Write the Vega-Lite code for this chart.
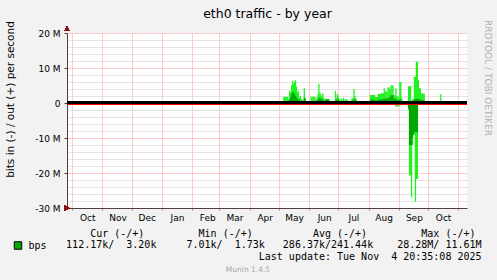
{
  "$schema": "https://vega.github.io/schema/vega-lite/v6.json",
  "autosize": {"type": "none"},
  "width": 400,
  "height": 175,
  "padding": {"left": 67, "top": 33, "right": 30, "bottom": 72},
  "background": "#f2f2f2",
  "config": {
    "view": {"fill": "#ffffff", "stroke": null},
    "font": "DejaVu Sans"
  },
  "title": {
    "text": "Munin 1.4.5",
    "orient": "bottom",
    "frame": "group",
    "anchor": "middle",
    "offset": 11,
    "dx": -19,
    "baseline": "alphabetic",
    "font": "DejaVu Sans",
    "fontSize": 7.5,
    "fontWeight": "normal",
    "color": "#a8a8a8"
  },
  "data": {
    "values": [
      {"d": "2025-05-06", "omax": 1.8, "oavg": 0.6, "imin": 0, "iavg": 0},
      {"d": "2025-05-07", "omax": 1.8, "oavg": 0.6, "imin": 0, "iavg": 0},
      {"d": "2025-05-08", "omax": 1.8, "oavg": 0.6, "imin": 0, "iavg": 0},
      {"d": "2025-05-09", "omax": 1.8, "oavg": 0.6, "imin": 0, "iavg": 0},
      {"d": "2025-05-10", "omax": 1.8, "oavg": 0.6, "imin": 0, "iavg": 0},
      {"d": "2025-05-11", "omax": 1.0, "oavg": 0.5, "imin": 0, "iavg": 0},
      {"d": "2025-05-12", "omax": 3.5, "oavg": 1.0, "imin": 0, "iavg": 0},
      {"d": "2025-05-13", "omax": 3.0, "oavg": 1.5, "imin": 0, "iavg": 0},
      {"d": "2025-05-14", "omax": 5.0, "oavg": 2.5, "imin": 0, "iavg": 0},
      {"d": "2025-05-15", "omax": 6.3, "oavg": 3.0, "imin": 0, "iavg": 0},
      {"d": "2025-05-16", "omax": 5.5, "oavg": 3.0, "imin": 0, "iavg": 0},
      {"d": "2025-05-17", "omax": 6.0, "oavg": 2.5, "imin": 0, "iavg": 0},
      {"d": "2025-05-18", "omax": 6.5, "oavg": 2.0, "imin": 0, "iavg": 0},
      {"d": "2025-05-19", "omax": 4.7, "oavg": 1.5, "imin": 0, "iavg": 0},
      {"d": "2025-05-20", "omax": 3.0, "oavg": 1.2, "imin": 0, "iavg": 0},
      {"d": "2025-05-21", "omax": 3.5, "oavg": 1.0, "imin": 0, "iavg": 0},
      {"d": "2025-05-22", "omax": 1.5, "oavg": 0.8, "imin": 0, "iavg": 0},
      {"d": "2025-05-23", "omax": 2.0, "oavg": 0.6, "imin": 0, "iavg": 0},
      {"d": "2025-05-24", "omax": 1.2, "oavg": 0.5, "imin": 0, "iavg": 0},
      {"d": "2025-05-25", "omax": 0.8, "oavg": 0.4, "imin": 0, "iavg": 0},
      {"d": "2025-05-27", "omax": 4.2, "oavg": 1.5, "imin": 0, "iavg": 0},
      {"d": "2025-05-28", "omax": 1.5, "oavg": 1.0, "imin": 0, "iavg": 0},
      {"d": "2025-06-03", "omax": 1.8, "oavg": 0.5, "imin": 0, "iavg": 0},
      {"d": "2025-06-04", "omax": 1.8, "oavg": 0.5, "imin": 0, "iavg": 0},
      {"d": "2025-06-05", "omax": 1.8, "oavg": 0.5, "imin": 0, "iavg": 0},
      {"d": "2025-06-06", "omax": 1.8, "oavg": 0.5, "imin": 0, "iavg": 0},
      {"d": "2025-06-07", "omax": 1.8, "oavg": 0.5, "imin": 0, "iavg": 0},
      {"d": "2025-06-08", "omax": 0.3, "oavg": 0.2, "imin": 0, "iavg": 0},
      {"d": "2025-06-09", "omax": 1.5, "oavg": 0.8, "imin": 0, "iavg": 0},
      {"d": "2025-06-10", "omax": 2.5, "oavg": 1.0, "imin": 0, "iavg": 0},
      {"d": "2025-06-11", "omax": 5.5, "oavg": 1.5, "imin": 0, "iavg": 0},
      {"d": "2025-06-12", "omax": 3.0, "oavg": 1.5, "imin": 0, "iavg": 0},
      {"d": "2025-06-13", "omax": 2.5, "oavg": 1.2, "imin": 0, "iavg": 0},
      {"d": "2025-06-14", "omax": 2.0, "oavg": 1.0, "imin": 0, "iavg": 0},
      {"d": "2025-06-15", "omax": 2.8, "oavg": 1.0, "imin": 0, "iavg": 0},
      {"d": "2025-06-16", "omax": 1.5, "oavg": 0.8, "imin": 0, "iavg": 0},
      {"d": "2025-06-18", "omax": 1.2, "oavg": 1.0, "imin": 0, "iavg": 0},
      {"d": "2025-06-19", "omax": 1.2, "oavg": 1.0, "imin": 0, "iavg": 0},
      {"d": "2025-06-20", "omax": 1.2, "oavg": 1.0, "imin": 0, "iavg": 0},
      {"d": "2025-06-21", "omax": 1.2, "oavg": 1.0, "imin": 0, "iavg": 0},
      {"d": "2025-06-28", "omax": 3.5, "oavg": 0.8, "imin": 0, "iavg": 0},
      {"d": "2025-06-29", "omax": 1.5, "oavg": 0.8, "imin": 0, "iavg": 0},
      {"d": "2025-06-30", "omax": 2.5, "oavg": 1.0, "imin": 0, "iavg": 0},
      {"d": "2025-07-01", "omax": 1.8, "oavg": 1.0, "imin": 0, "iavg": 0},
      {"d": "2025-07-02", "omax": 1.0, "oavg": 0.6, "imin": 0, "iavg": 0},
      {"d": "2025-07-03", "omax": 0.3, "oavg": 0.2, "imin": 0, "iavg": 0},
      {"d": "2025-07-04", "omax": 1.3, "oavg": 0.5, "imin": 0, "iavg": 0},
      {"d": "2025-07-05", "omax": 0.8, "oavg": 0.4, "imin": 0, "iavg": 0},
      {"d": "2025-07-06", "omax": 1.5, "oavg": 0.5, "imin": 0, "iavg": 0},
      {"d": "2025-07-07", "omax": 0.8, "oavg": 0.4, "imin": 0, "iavg": 0},
      {"d": "2025-07-08", "omax": 1.2, "oavg": 0.6, "imin": 0, "iavg": 0},
      {"d": "2025-07-09", "omax": 1.0, "oavg": 0.5, "imin": 0, "iavg": 0},
      {"d": "2025-07-10", "omax": 1.0, "oavg": 0.5, "imin": 0, "iavg": 0},
      {"d": "2025-07-11", "omax": 0.5, "oavg": 0.3, "imin": 0, "iavg": 0},
      {"d": "2025-07-14", "omax": 0.8, "oavg": 0.4, "imin": 0, "iavg": 0},
      {"d": "2025-07-15", "omax": 1.5, "oavg": 0.6, "imin": 0, "iavg": 0},
      {"d": "2025-07-16", "omax": 1.2, "oavg": 0.8, "imin": 0, "iavg": 0},
      {"d": "2025-07-17", "omax": 4.0, "oavg": 1.2, "imin": 0, "iavg": 0},
      {"d": "2025-07-18", "omax": 2.0, "oavg": 1.0, "imin": 0, "iavg": 0},
      {"d": "2025-07-19", "omax": 1.2, "oavg": 0.8, "imin": 0, "iavg": 0},
      {"d": "2025-07-20", "omax": 0.3, "oavg": 0.2, "imin": 0, "iavg": 0},
      {"d": "2025-07-21", "omax": 0.5, "oavg": 0.3, "imin": 0, "iavg": 0},
      {"d": "2025-07-22", "omax": 0.5, "oavg": 0.3, "imin": 0, "iavg": 0},
      {"d": "2025-07-23", "omax": 0.5, "oavg": 0.3, "imin": 0, "iavg": 0},
      {"d": "2025-07-24", "omax": 0.5, "oavg": 0.3, "imin": 0, "iavg": 0},
      {"d": "2025-07-25", "omax": 0.5, "oavg": 0.3, "imin": 0, "iavg": 0},
      {"d": "2025-07-26", "omax": 0.5, "oavg": 0.3, "imin": 0, "iavg": 0},
      {"d": "2025-08-03", "omax": 2.3, "oavg": 0.9, "imin": -0.5, "iavg": -0.5},
      {"d": "2025-08-04", "omax": 2.3, "oavg": 0.9, "imin": -0.5, "iavg": -0.5},
      {"d": "2025-08-05", "omax": 2.3, "oavg": 0.9, "imin": -0.5, "iavg": -0.5},
      {"d": "2025-08-06", "omax": 2.3, "oavg": 0.9, "imin": -0.5, "iavg": -0.5},
      {"d": "2025-08-07", "omax": 2.3, "oavg": 0.9, "imin": -0.5, "iavg": -0.5},
      {"d": "2025-08-08", "omax": 1.7, "oavg": 0.7, "imin": -0.5, "iavg": -0.5},
      {"d": "2025-08-09", "omax": 1.7, "oavg": 0.7, "imin": -0.5, "iavg": -0.5},
      {"d": "2025-08-10", "omax": 1.7, "oavg": 0.7, "imin": -0.5, "iavg": -0.5},
      {"d": "2025-08-11", "omax": 2.6, "oavg": 0.9, "imin": -0.5, "iavg": -0.5},
      {"d": "2025-08-12", "omax": 2.6, "oavg": 0.9, "imin": -0.5, "iavg": -0.5},
      {"d": "2025-08-13", "omax": 2.6, "oavg": 0.9, "imin": -0.5, "iavg": -0.5},
      {"d": "2025-08-14", "omax": 2.8, "oavg": 1.0, "imin": -0.5, "iavg": -0.5},
      {"d": "2025-08-15", "omax": 2.8, "oavg": 1.0, "imin": -0.5, "iavg": -0.5},
      {"d": "2025-08-16", "omax": 2.8, "oavg": 1.0, "imin": -0.6, "iavg": -0.6},
      {"d": "2025-08-17", "omax": 4.2, "oavg": 1.2, "imin": -0.6, "iavg": -0.6},
      {"d": "2025-08-18", "omax": 3.5, "oavg": 1.2, "imin": -0.6, "iavg": -0.6},
      {"d": "2025-08-19", "omax": 3.2, "oavg": 1.2, "imin": -0.6, "iavg": -0.6},
      {"d": "2025-08-20", "omax": 3.2, "oavg": 1.2, "imin": -0.6, "iavg": -0.6},
      {"d": "2025-08-21", "omax": 4.4, "oavg": 1.5, "imin": -0.6, "iavg": -0.6},
      {"d": "2025-08-22", "omax": 4.4, "oavg": 1.5, "imin": -0.6, "iavg": -0.6},
      {"d": "2025-08-23", "omax": 3.8, "oavg": 1.6, "imin": -0.6, "iavg": -0.6},
      {"d": "2025-08-24", "omax": 5.0, "oavg": 2.2, "imin": -0.6, "iavg": -0.6},
      {"d": "2025-08-25", "omax": 5.0, "oavg": 2.2, "imin": -0.6, "iavg": -0.6},
      {"d": "2025-08-26", "omax": 5.0, "oavg": 2.2, "imin": -0.6, "iavg": -0.6},
      {"d": "2025-08-27", "omax": 2.3, "oavg": 1.2, "imin": -0.6, "iavg": -0.6},
      {"d": "2025-08-28", "omax": 2.3, "oavg": 1.2, "imin": -0.6, "iavg": -0.6},
      {"d": "2025-08-29", "omax": 4.2, "oavg": 1.2, "imin": -1.0, "iavg": -0.5},
      {"d": "2025-08-30", "omax": 2.0, "oavg": 1.0, "imin": -1.0, "iavg": -0.5},
      {"d": "2025-08-31", "omax": 1.8, "oavg": 0.8, "imin": -1.0, "iavg": -0.5},
      {"d": "2025-09-01", "omax": 1.8, "oavg": 0.8, "imin": -0.8, "iavg": -0.4},
      {"d": "2025-09-02", "omax": 6.0, "oavg": 1.0, "imin": -0.8, "iavg": -0.4},
      {"d": "2025-09-03", "omax": 6.0, "oavg": 1.0, "imin": -0.5, "iavg": -0.3},
      {"d": "2025-09-04", "omax": 1.5, "oavg": 0.5, "imin": 0, "iavg": 0},
      {"d": "2025-09-11", "omax": 4.8, "oavg": 0.5, "imin": -2.0, "iavg": -1.5},
      {"d": "2025-09-12", "omax": 4.8, "oavg": 0.5, "imin": -20.7, "iavg": -12.0},
      {"d": "2025-09-13", "omax": 4.8, "oavg": 0.5, "imin": -20.7, "iavg": -12.0},
      {"d": "2025-09-14", "omax": 0.5, "oavg": 0.3, "imin": -27.0, "iavg": -12.0},
      {"d": "2025-09-15", "omax": 1.0, "oavg": 0.4, "imin": -12.0, "iavg": -10.0},
      {"d": "2025-09-16", "omax": 1.2, "oavg": 0.5, "imin": -9.0, "iavg": -9.0},
      {"d": "2025-09-17", "omax": 7.5, "oavg": 1.0, "imin": -9.0, "iavg": -8.3},
      {"d": "2025-09-18", "omax": 7.5, "oavg": 1.0, "imin": -28.2, "iavg": -8.3},
      {"d": "2025-09-19", "omax": 11.8, "oavg": 1.2, "imin": -21.7, "iavg": -8.3},
      {"d": "2025-09-20", "omax": 11.8, "oavg": 1.2, "imin": -21.7, "iavg": -8.3},
      {"d": "2025-09-21", "omax": 6.6, "oavg": 1.0, "imin": -0.5, "iavg": -0.5},
      {"d": "2025-09-22", "omax": 4.2, "oavg": 1.0, "imin": 0, "iavg": 0},
      {"d": "2025-09-23", "omax": 4.2, "oavg": 1.0, "imin": 0, "iavg": 0},
      {"d": "2025-09-24", "omax": 2.7, "oavg": 0.8, "imin": 0, "iavg": 0},
      {"d": "2025-09-25", "omax": 2.7, "oavg": 0.8, "imin": 0, "iavg": 0},
      {"d": "2025-09-26", "omax": 2.7, "oavg": 0.8, "imin": 0, "iavg": 0},
      {"d": "2025-09-27", "omax": 2.7, "oavg": 0.8, "imin": 0, "iavg": 0},
      {"d": "2025-10-14", "omax": 2.5, "oavg": 0.2, "imin": 0, "iavg": 0}
    ]
  },
  "resolve": {"axis": {"x": "independent", "y": "independent"}},
  "layer": [
    {
      "mark": {"type": "bar", "size": 1.3, "color": "#22f022"},
      "encoding": {
        "x": {
          "field": "d", "type": "temporal",
          "scale": {"domain": ["2024-09-30T18:00:00", "2025-11-04T18:00:00"], "nice": false},
          "axis": {
            "orient": "bottom",
            "tickCount": {"interval": "month", "step": 1},
            "format": "%b",
            "labelExpr": "datum.value > datetime(2025, 9, 20) ? '' : datum.label",
            "labelOffset": 15,
            "labelAlign": "center",
            "labelBaseline": "alphabetic",
            "labelPadding": 10.5,
            "labelOverlap": false,
            "labelFlush": false,
            "labelBound": false,
            "labelFont": "DejaVu Sans",
            "labelFontSize": 9,
            "labelColor": "#000000",
            "tickSize": 2,
            "tickColor": "#d08080",
            "domainColor": "#504040",
            "domainWidth": 1,
            "grid": true,
            "gridColor": "#ff9a9a",
            "gridDash": [1, 1],
            "gridWidth": 1,
            "title": [
              "\u200b\u00a0\u00a0\u00a0\u00a0Cur\u00a0(-/+)\u00a0\u00a0\u00a0\u00a0\u00a0\u00a0\u00a0\u00a0\u00a0Min\u00a0(-/+)\u00a0\u00a0\u00a0\u00a0\u00a0\u00a0\u00a0\u00a0\u00a0\u00a0Avg\u00a0(-/+)\u00a0\u00a0\u00a0\u00a0\u00a0\u00a0\u00a0\u00a0\u00a0Max\u00a0(-/+)",
              "112.17k/\u00a0\u00a03.20k\u00a0\u00a0\u00a0\u00a0\u00a07.01k/\u00a0\u00a01.73k\u00a0\u00a0\u00a0286.37k/241.44k\u00a0\u00a0\u00a0\u00a028.28M/\u00a011.61M",
              "\u200b\u00a0\u00a0\u00a0\u00a0\u00a0\u00a0\u00a0\u00a0\u00a0\u00a0\u00a0\u00a0\u00a0\u00a0\u00a0\u00a0\u00a0\u00a0\u00a0\u00a0\u00a0\u00a0\u00a0\u00a0\u00a0\u00a0\u00a0\u00a0\u00a0\u00a0\u00a0\u00a0Last\u00a0update:\u00a0Tue\u00a0Nov\u00a0\u00a04\u00a020:35:08\u00a02025"
            ],
            "titleFont": "DejaVu Sans Mono",
            "titleFontSize": 10,
            "titleFontWeight": "normal",
            "titleColor": "#000000",
            "titleAlign": "left",
            "titleBaseline": "alphabetic",
            "titleAnchor": null,
            "titleX": -1.4,
            "titleY": 28,
            "titleLineHeight": 11.5
          }
        },
        "y": {
          "field": "omax", "type": "quantitative",
          "scale": {"domain": [-30, 20], "nice": false, "zero": false},
          "axis": {
            "orient": "left",
            "values": [-30, -20, -10, 0, 10, 20],
            "labelExpr": "datum.value == 0 ? '0' : datum.value + ' M'",
            "labelFont": "DejaVu Sans",
            "labelFontSize": 9,
            "labelColor": "#000000",
            "labelPadding": 4,
            "labelBaseline": "middle",
            "tickSize": 3,
            "tickColor": "#504040",
            "domainColor": "#504040",
            "grid": true,
            "gridColor": "#ff9a9a",
            "gridDash": [1, 1],
            "title": "bits in (-) / out (+) per second",
            "titleFont": "DejaVu Sans",
            "titleFontSize": 10.5,
            "titleFontWeight": "normal",
            "titleColor": "#000000",
            "titleAngle": -90,
            "titleAlign": "center",
            "titleBaseline": "alphabetic",
            "titleAnchor": null,
            "titleX": -53.5,
            "titleY": 66
          }
        }
      }
    },
    {
      "mark": {"type": "bar", "size": 1.3, "color": "#22f022"},
      "encoding": {
        "x": {
          "field": "d", "type": "temporal",
          "axis": {
            "orient": "top",
            "domain": false, "ticks": false, "labels": false, "grid": false,
            "title": "eth0 traffic - by year",
            "titleFont": "DejaVu Sans",
            "titleFontSize": 12.5,
            "titleFontWeight": "normal",
            "titleColor": "#000000",
            "titleAlign": "center",
            "titleBaseline": "alphabetic",
            "titleAnchor": null,
            "titleX": 200,
            "titleY": -15.5
          }
        },
        "y": {
          "field": "imin", "type": "quantitative",
          "axis": {
            "orient": "right",
            "values": [-28, -26, -24, -22, -18, -16, -14, -12, -8, -6, -4, -2, 2, 4, 6, 8, 12, 14, 16, 18],
            "domain": false, "ticks": false, "labels": false,
            "grid": true,
            "gridColor": "#c8c8c8",
            "gridDash": [1, 1],
            "title": "RRDTOOL / TOBI OETIKER",
            "titleFont": "DejaVu Sans",
            "titleFontSize": 9,
            "titleFontWeight": "normal",
            "titleColor": "#b0b0b0",
            "titleAngle": 90,
            "titleAlign": "center",
            "titleBaseline": "alphabetic",
            "titleAnchor": null,
            "titleX": 17,
            "titleY": 44.5
          }
        }
      }
    },
    {
      "mark": {"type": "bar", "size": 1.3},
      "encoding": {
        "x": {"field": "d", "type": "temporal", "axis": null},
        "y": {"field": "oavg", "type": "quantitative", "axis": null},
        "color": {
          "datum": "bps",
          "scale": {"range": ["#00a800"]},
          "legend": {
            "orient": "none",
            "legendX": -54,
            "legendY": 207.5,
            "title": null,
            "padding": 0,
            "symbolType": "square",
            "symbolSize": 56,
            "symbolStrokeColor": "#000000",
            "symbolStrokeWidth": 1,
            "symbolFillColor": "#00a800",
            "labelFont": "DejaVu Sans Mono",
            "labelFontSize": 10,
            "labelColor": "#000000",
            "labelOffset": 5.5
          }
        }
      }
    },
    {
      "mark": {"type": "bar", "size": 1.3, "color": "#00a800"},
      "encoding": {
        "x": {"field": "d", "type": "temporal", "axis": null},
        "y": {"field": "iavg", "type": "quantitative", "axis": null}
      }
    },
    {
      "mark": {"type": "rule", "color": "#ff0000", "strokeWidth": 1.2, "yOffset": 1.5},
      "encoding": {"y": {"datum": 0, "type": "quantitative", "axis": null}}
    },
    {
      "mark": {"type": "rule", "color": "#000000", "strokeWidth": 2, "yOffset": -0.3},
      "encoding": {"y": {"datum": 0, "type": "quantitative", "axis": null}}
    },
    {
      "mark": {"type": "point", "shape": "triangle-up", "filled": true, "color": "#8b1010", "size": 24, "opacity": 1},
      "encoding": {
        "x": {"datum": "2024-09-30T18:00:00", "type": "temporal", "axis": null},
        "y": {"datum": 21.2, "type": "quantitative", "axis": null}
      }
    },
    {
      "mark": {"type": "point", "shape": "triangle-right", "filled": true, "color": "#8b1010", "size": 24, "opacity": 1},
      "encoding": {
        "x": {"datum": "2025-11-08T18:00:00", "type": "temporal", "axis": null},
        "y": {"datum": -30, "type": "quantitative", "axis": null}
      }
    }
  ]
}
